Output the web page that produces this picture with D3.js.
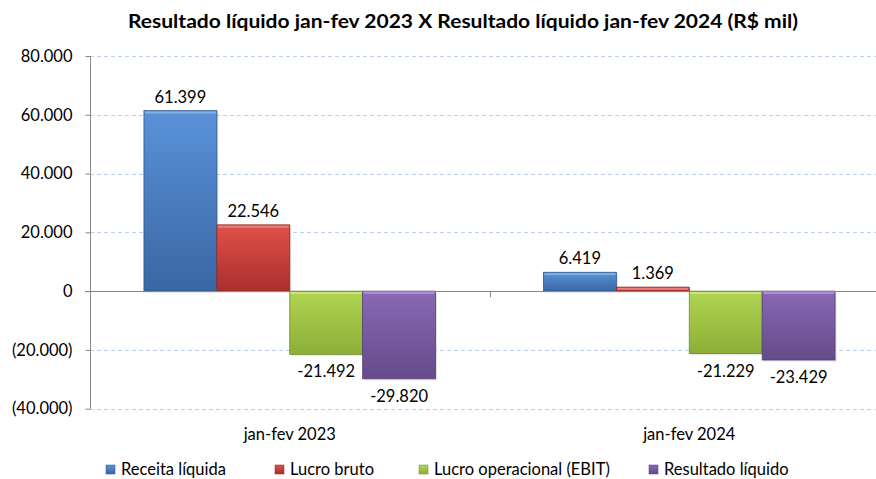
<!DOCTYPE html>
<html>
<head>
<meta charset="utf-8">
<script src="https://cdn.jsdelivr.net/npm/d3@7"></script>
<style>
  body { margin: 0; background: #fff; }
  text { font-family: Lato, "Open Sans", sans-serif; fill: #000; }
</style>
</head>
<body>
<div id="chart"></div>
<script>
// data
var categories = ["jan-fev 2023", "jan-fev 2024"];
var seriesNames = ["Receita líquida", "Lucro bruto", "Lucro operacional (EBIT)", "Resultado líquido"];
var values2023 = [61399, 22546, -21492, -29820];
var values2024 = [6419, 1369, -21229, -23429];
var yTicks = [-40000, -20000, 0, 20000, 40000, 60000, 80000];

var seriesColors = [
    {top: "#5a92da", bottom: "#3a66a3", edge: "#2f5588", light: "#8fb8ee"},
    {top: "#e0504b", bottom: "#a92f2c", edge: "#8c2624", light: "#f08e8b"},
    {top: "#b0d452", bottom: "#8cae38", edge: "#6f8c2a", light: "#d3ec8e"},
    {top: "#8a68b5", bottom: "#654b8a", edge: "#54407a", light: "#b79ad9"}
];

var width = 876, height = 479;
var margin = {left: 90, right: -13, top: 56, bottom: 70};
var fontSize = "16.5px";

var svg = d3.select("#chart").append("svg")
    .attr("width", width)
    .attr("height", height);

var defs = svg.append("defs");
seriesColors.forEach(function(c, i){
    var g = defs.append("linearGradient")
        .attr("id", "grad" + i)
        .attr("x1", 0).attr("y1", 0).attr("x2", 0).attr("y2", 1);
    g.append("stop").attr("offset", "0%").attr("stop-color", c.top);
    g.append("stop").attr("offset", "100%").attr("stop-color", c.bottom);
});

var x0 = d3.scaleBand()
    .domain(categories)
    .range([margin.left, width - margin.right]);

var x1 = d3.scaleBand()
    .domain(d3.range(seriesNames.length))
    .range([0, x0.bandwidth()])
    .paddingOuter(0.74);

var y = d3.scaleLinear()
    .domain([-40000, 80000])
    .range([408.7, 56]);

var fmt = function(v){
    var s = d3.format(",")(Math.abs(v)).replace(/,/g, ".");
    if (v < 0) return "(" + s + ")";
    return s;
};

// title
svg.append("text")
    .attr("x", 463)
    .attr("y", 28)
    .attr("text-anchor", "middle")
    .attr("font-size", "18.5px")
    .attr("font-weight", "bold")
    .attr("textLength", 670)
    .attr("lengthAdjust", "spacingAndGlyphs")
    .text("Resultado líquido jan-fev 2023 X Resultado líquido jan-fev 2024 (R$ mil)");

// grid lines
svg.append("g")
    .selectAll("line")
    .data(yTicks.filter(function(d){ return d !== 0; }))
    .enter()
    .append("line")
    .attr("x1", margin.left)
    .attr("x2", width)
    .attr("y1", function(d){ return Math.round(y(d)) + 0.5; })
    .attr("y2", function(d){ return Math.round(y(d)) + 0.5; })
    .attr("stroke", "#bcd0ea")
    .attr("stroke-dasharray", "4,3");

// y axis
var yAxis = svg.append("g")
    .attr("transform", "translate(" + (margin.left + 0.5) + ",0)")
    .call(d3.axisLeft(y).tickValues(yTicks).tickSize(5).tickPadding(13).tickFormat(fmt));
yAxis.select(".domain").attr("stroke", "#868686").attr("d", "M0," + y(80000) + "V" + y(-40000));
yAxis.selectAll(".tick line").attr("stroke", "#868686");
yAxis.selectAll(".tick text")
    .attr("font-family", "Lato, sans-serif")
    .attr("font-size", fontSize)
    .attr("fill", "#000");

// bars
var data = categories.map(function(c, i){
    var vals = i === 0 ? values2023 : values2024;
    return {cat: c, values: vals};
});

var groups = svg.append("g")
    .selectAll("g")
    .data(data)
    .enter()
    .append("g")
    .attr("transform", function(d){ return "translate(" + x0(d.cat) + ",0)"; });

var bars = groups.selectAll("g.bar")
    .data(function(d){ return d.values.map(function(v, i){ return {v: v, i: i}; }); })
    .enter()
    .append("g")
    .attr("class", "bar");

// soft shadow
bars.append("rect")
    .attr("x", function(d){ return x1(d.i) + 1.5; })
    .attr("y", function(d){ return Math.min(y(d.v), y(0)) + 1.5; })
    .attr("width", x1.bandwidth())
    .attr("height", function(d){ return Math.abs(y(d.v) - y(0)); })
    .attr("fill", "#000")
    .attr("opacity", 0.12);

bars.append("rect")
    .attr("x", function(d){ return x1(d.i); })
    .attr("y", function(d){ return Math.min(y(d.v), y(0)); })
    .attr("width", x1.bandwidth())
    .attr("height", function(d){ return Math.abs(y(d.v) - y(0)); })
    .attr("fill", function(d){ return "url(#grad" + d.i + ")"; })
    .attr("stroke", function(d){ return seriesColors[d.i].edge; })
    .attr("stroke-width", 0.8);

// top bevel highlight
bars.append("rect")
    .attr("x", function(d){ return x1(d.i) + 1; })
    .attr("y", function(d){ return Math.min(y(d.v), y(0)) + 0.8; })
    .attr("width", x1.bandwidth() - 2)
    .attr("height", function(d){ return Math.min(2, Math.abs(y(d.v) - y(0)) - 1.2); })
    .attr("fill", function(d){ return seriesColors[d.i].light; })
    .attr("opacity", 0.8);

// value labels
bars.append("text")
    .attr("x", function(d){ return x1(d.i) + x1.bandwidth() / 2; })
    .attr("y", function(d){ return d.v >= 0 ? y(d.v) - 8 : y(d.v) + 23; })
    .attr("text-anchor", "middle")
    .attr("font-size", fontSize)
    .text(function(d){ return d3.format(",")(d.v).replace(/,/g, ".").replace("−", "-"); });

// zero / category axis
svg.append("line")
    .attr("x1", margin.left - 5)
    .attr("x2", width)
    .attr("y1", Math.round(y(0)) + 0.5)
    .attr("y2", Math.round(y(0)) + 0.5)
    .attr("stroke", "#868686");

svg.append("g")
    .selectAll("line")
    .data([x0.range()[0] + x0.bandwidth()])
    .enter()
    .append("line")
    .attr("x1", function(d){ return Math.round(d) + 0.5; })
    .attr("x2", function(d){ return Math.round(d) + 0.5; })
    .attr("y1", y(0))
    .attr("y2", y(0) + 6)
    .attr("stroke", "#868686");

svg.append("g")
    .selectAll("text")
    .data(categories)
    .enter()
    .append("text")
    .attr("x", function(d){ return x0(d) + x0.bandwidth() / 2; })
    .attr("y", 440)
    .attr("text-anchor", "middle")
    .attr("font-size", fontSize)
    .text(function(d){ return d; });

// legend
var legendX = [106, 275, 419, 649];
var legend = svg.append("g")
    .selectAll("g")
    .data(seriesNames)
    .enter()
    .append("g")
    .attr("transform", function(d, i){ return "translate(" + legendX[i] + ",465)"; });

legend.append("rect")
    .attr("width", 9)
    .attr("height", 9)
    .attr("fill", function(d, i){ return "url(#grad" + i + ")"; })
    .attr("stroke", function(d, i){ return seriesColors[i].edge; })
    .attr("stroke-width", 0.5);

legend.append("text")
    .attr("x", 15)
    .attr("y", 10)
    .attr("font-size", fontSize)
    .text(function(d){ return d; });
</script>
</body>
</html>
